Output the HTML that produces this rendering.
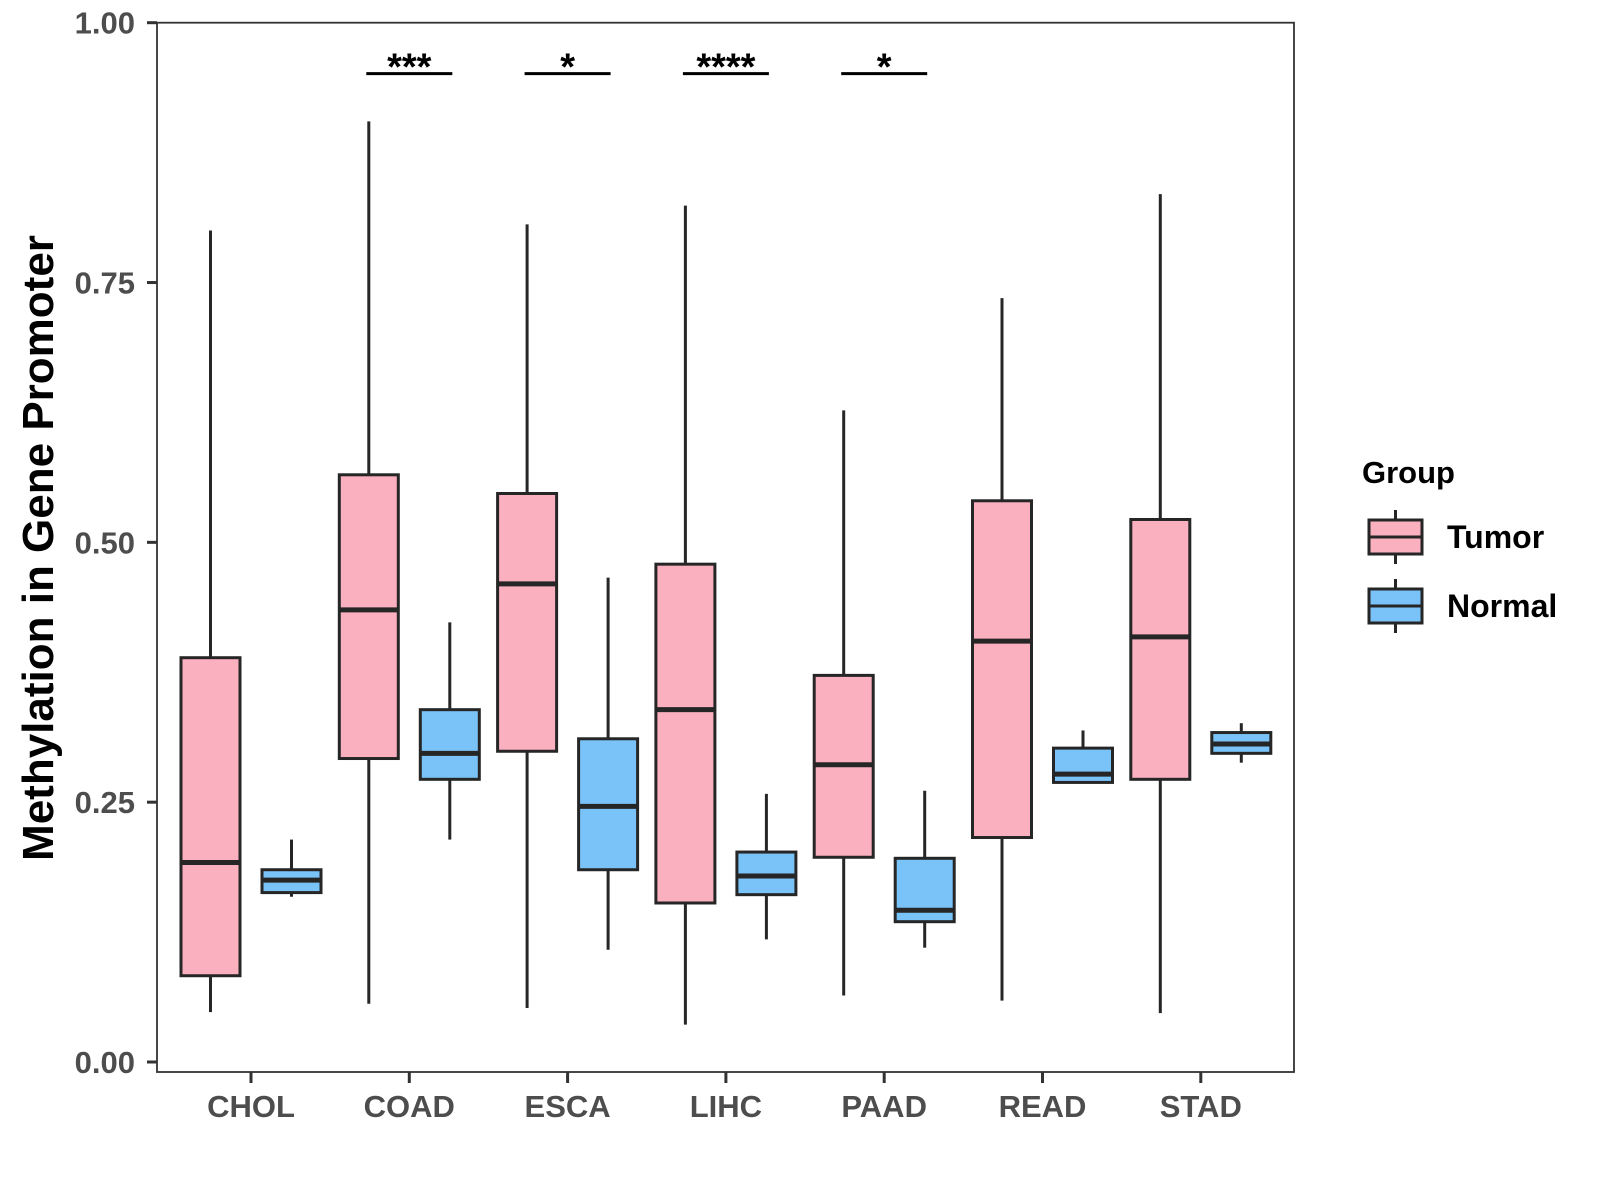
<!DOCTYPE html>
<html><head><meta charset="utf-8"><style>
html,body{margin:0;padding:0;background:#fff;}
svg{display:block;font-family:"Liberation Sans",Arial,sans-serif;}
</style></head><body>
<svg id="chart" width="1600" height="1200" viewBox="0 0 1600 1200"></svg>
<script>
const categories=["CHOL","COAD","ESCA","LIHC","PAAD","READ","STAD"];
// [lower whisker, q1, median, q3, upper whisker]
const tumorStats=[[0.048,0.083,0.192,0.389,0.80],[0.056,0.292,0.435,0.565,0.905],[0.052,0.299,0.46,0.547,0.806],[0.036,0.153,0.339,0.479,0.824],[0.064,0.197,0.286,0.372,0.627],[0.059,0.216,0.405,0.54,0.735],[0.047,0.272,0.409,0.522,0.835]];
const normalStats=[[0.159,0.163,0.175,0.185,0.214],[0.214,0.272,0.297,0.339,0.423],[0.108,0.185,0.246,0.311,0.466],[0.118,0.161,0.179,0.202,0.258],[0.11,0.135,0.146,0.196,0.261],[0.269,0.269,0.277,0.302,0.319],[0.288,0.297,0.306,0.317,0.326]];
const yTicks=[0,0.25,0.5,0.75,1.0];
const yTickLabels=["0.00","0.25","0.50","0.75","1.00"];
const sigCats=["COAD","ESCA","LIHC","PAAD"];
const sigLabels=["***","*","****","*"];
const sigLevel=0.951;

const NS="http://www.w3.org/2000/svg";
const svg=document.getElementById("chart");
const L=157,R=1294,T=22.7,B=1072;
const y0=1062,y1=22.7;
const yS=v=>y0-(y0-y1)*v;
const xC=i=>251+i*158.3;
function el(tag,attrs,parent){const e=document.createElementNS(NS,tag);for(const k in attrs)e.setAttribute(k,attrs[k]);(parent||svg).appendChild(e);return e;}

const panel=el("rect",{x:L,y:T,width:R-L,height:B-T,fill:"none",stroke:"#333",'stroke-width':1.8});



yTicks.forEach((v,i)=>{
  const y=yS(v);
  const t=el("line",{x1:147,x2:L,y1:y,y2:y,stroke:"#333",'stroke-width':3});
  
  
  const lb=el("text",{x:135,y:y+11,'text-anchor':'end','font-size':31,'font-weight':'bold',fill:'#4d4d4d'});
  lb.textContent=yTickLabels[i];
  
  
});

categories.forEach((c,i)=>{
  const x=xC(i);
  const t=el("line",{x1:x,x2:x,y1:B,y2:B+11,stroke:"#333",'stroke-width':3});
  
  
  const lb=el("text",{x:x,y:1117,'text-anchor':'middle','font-size':31,'font-weight':'bold',fill:'#4d4d4d'});
  lb.textContent=c;
  
  
});

function drawBox(s,cx,fill,name){
  const g=el("g",{});
  
  
  const w=59;
  el("line",{x1:cx,x2:cx,y1:yS(s[0]),y2:yS(s[1]),stroke:"#262626",'stroke-width':3},g);
  el("line",{x1:cx,x2:cx,y1:yS(s[3]),y2:yS(s[4]),stroke:"#262626",'stroke-width':3},g);
  el("rect",{x:cx-w/2,y:yS(s[3]),width:w,height:yS(s[1])-yS(s[3]),fill:fill,stroke:"#262626",'stroke-width':3},g);
  el("line",{x1:cx-w/2,x2:cx+w/2,y1:yS(s[2]),y2:yS(s[2]),stroke:"#262626",'stroke-width':5},g);
}
categories.forEach((c,i)=>{
  drawBox(tumorStats[i],xC(i)-40.5,"#fbb0c0","box-tumor-"+c.toLowerCase());
  drawBox(normalStats[i],xC(i)+40.5,"#79c3f8","box-normal-"+c.toLowerCase());
});

sigCats.forEach((c,k)=>{
  const x=xC(categories.indexOf(c));
  const y=yS(sigLevel);
  const ln=el("line",{x1:x-43,x2:x+43,y1:y,y2:y,stroke:"#000",'stroke-width':3});
  
  
  const tx=el("text",{x:x,y:y+6,'text-anchor':'middle','font-size':38,'font-weight':'bold',fill:'#000'});
  tx.textContent=sigLabels[k];
  
  
});

const yt=el("text",{x:0,y:0,transform:"translate(53,548) rotate(-90)",'text-anchor':'middle','font-size':44,'font-weight':'bold',fill:'#000'});
yt.textContent="Methylation in Gene Promoter";



const lg=el("g",{});


const lt=el("text",{x:1362,y:483,'font-size':31,'font-weight':'bold',fill:'#000'},lg);
lt.textContent="Group";


[["Tumor","#fbb0c0",520],["Normal","#79c3f8",589]].forEach(([n,f,y])=>{
  const g=el("g",{},lg);
  
  
  const cx=1395.5;
  el("line",{x1:cx,x2:cx,y1:y-10,y2:y+44,stroke:"#262626",'stroke-width':3},g);
  el("rect",{x:1369,y:y,width:53,height:34,fill:f,stroke:"#262626",'stroke-width':3},g);
  el("line",{x1:1369,x2:1422,y1:y+17,y2:y+17,stroke:"#262626",'stroke-width':3},g);
  const t=el("text",{x:1447,y:y+28,'font-size':32,'font-weight':'bold',fill:'#000'},g);
  t.textContent=n;
});
</script>
</body></html>
